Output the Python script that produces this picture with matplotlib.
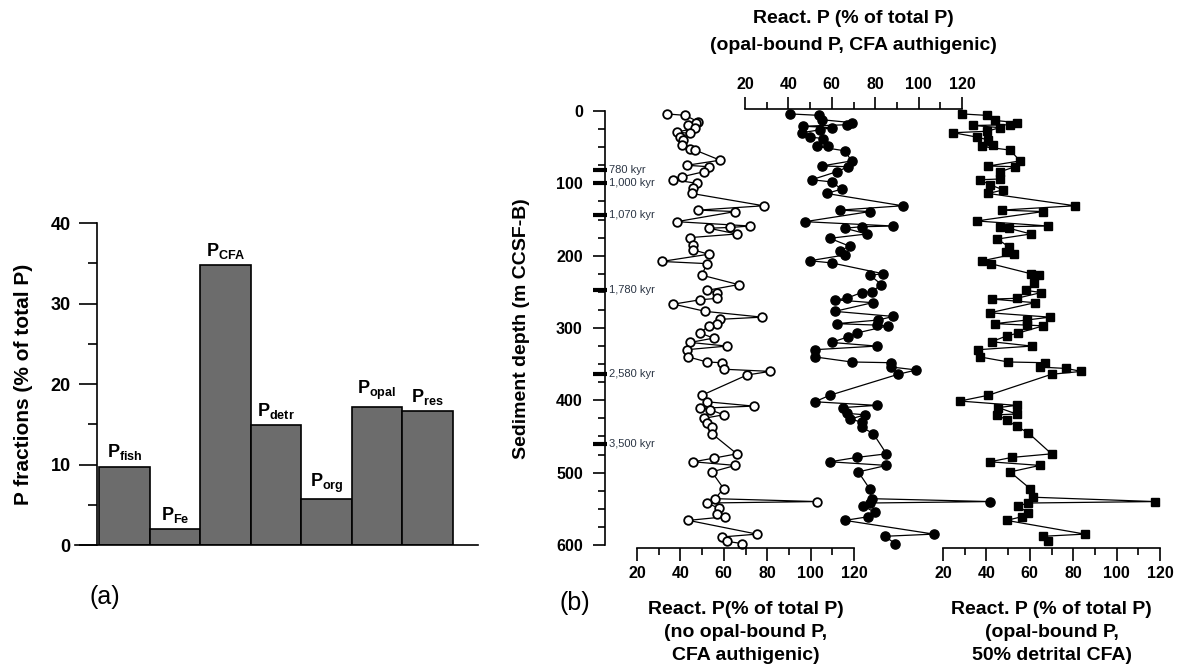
import matplotlib
matplotlib.use('Agg')
import matplotlib.pyplot as plt
from matplotlib.ticker import FixedLocator, MultipleLocator, NullLocator
from matplotlib.transforms import blended_transform_factory as blend

plt.rcParams['font.family'] = ['Liberation Sans', 'DejaVu Sans']
plt.rcParams['font.weight'] = 'bold'
plt.rcParams['mathtext.fontset'] = 'custom'
plt.rcParams['mathtext.rm'] = 'Liberation Sans:bold'
plt.rcParams['mathtext.bf'] = 'Liberation Sans:bold'
plt.rcParams['mathtext.it'] = 'Liberation Sans:bold'
plt.rcParams['mathtext.sf'] = 'Liberation Sans:bold'
plt.rcParams['axes.linewidth'] = 1.2

# ---------------- data: panel (a) ----------------
fractions = ['fish', 'Fe', 'CFA', 'detr', 'org', 'opal', 'res']
fraction_values = [9.75, 1.95, 34.8, 14.9, 5.7, 17.2, 16.6]

# ---------------- data: panel (b) ----------------
# open circles: no opal-bound P, CFA authigenic (bottom-left axis)
depth_L = [4, 6, 15, 17, 19, 24, 29, 31, 36, 40,
           47, 52, 54, 68, 75, 77, 84, 91, 95, 100,
           107, 114, 131, 137, 139, 153, 159, 161, 162, 170,
           175, 185, 192, 198, 208, 211, 227, 240, 248, 252,
           259, 261, 267, 277, 285, 288, 294, 297, 307, 314,
           320, 325, 330, 340, 347, 348, 357, 360, 365, 393,
           402, 408, 411, 413, 420, 425, 431, 437, 446, 474,
           480, 485, 490, 499, 522, 536, 540, 542, 549, 557,
           561, 566, 585, 589, 595, 598]
react_L = [33.7, 42.2, 48.3, 47.0, 43.7, 46.8, 38.3, 44.5, 39.9, 41.4,
           40.6, 44.5, 46.8, 58.3, 43.0, 53.0, 50.7, 40.6, 36.8, 47.6,
           46.0, 45.3, 78.3, 48.3, 65.3, 38.3, 72.2, 63.0, 53.0, 66.0,
           44.5, 46.0, 46.0, 53.0, 31.4, 52.2, 49.9, 66.8, 52.2, 56.8,
           56.8, 49.1, 36.8, 51.4, 77.6, 58.3, 56.8, 53.0, 49.1, 55.3,
           44.5, 61.4, 43.0, 43.7, 52.2, 59.0, 59.9, 81.4, 70.7, 49.9,
           52.2, 73.7, 49.1, 53.7, 59.9, 50.7, 52.2, 54.5, 54.5, 66.0,
           55.3, 46.0, 65.3, 54.5, 59.9, 56.0, 102.9, 52.2, 57.6, 56.8,
           60.7, 43.7, 75.3, 59.0, 61.4, 68.3]

# filled circles: opal-bound P, CFA authigenic (top axis)
depth_M = [4, 6, 12, 16, 19, 21, 23, 26, 30, 36,
           38, 48, 49, 55, 69, 76, 77, 84, 95, 98,
           108, 114, 131, 137, 139, 153, 159, 160, 162, 170,
           176, 187, 193, 199, 207, 210, 225, 227, 240, 250,
           251, 259, 261, 265, 277, 284, 289, 294, 296, 297,
           307, 312, 320, 325, 330, 340, 347, 348, 354, 358,
           364, 393, 402, 407, 410, 418, 420, 426, 430, 437,
           446, 474, 479, 485, 490, 499, 523, 536, 540, 542,
           546, 555, 561, 566, 585, 588, 598]
react_M = [40.7, 54.2, 55.3, 69.1, 66.8, 46.9, 59.9, 54.5, 46.1, 49.9,
           56.0, 58.4, 53.0, 66.0, 69.1, 55.3, 67.6, 62.2, 50.7, 59.9,
           64.5, 57.6, 92.6, 63.7, 77.6, 47.6, 88.3, 73.7, 66.0, 76.1,
           59.1, 68.3, 63.7, 66.0, 49.9, 59.9, 83.7, 77.6, 82.9, 78.3,
           73.7, 66.8, 61.4, 78.8, 61.4, 88.3, 81.4, 62.2, 80.6, 86.0,
           71.4, 67.6, 59.9, 80.6, 52.2, 52.2, 69.1, 87.5, 87.5, 99.0,
           90.6, 59.1, 52.2, 80.6, 65.3, 66.8, 75.3, 68.4, 73.7, 73.7,
           79.1, 85.2, 71.4, 59.1, 85.2, 72.2, 77.6, 78.3, 133.0, 77.6,
           74.5, 79.9, 76.8, 66.0, 107.0, 84.5, 89.1]

# filled squares: opal-bound P, 50% detrital CFA (bottom-right axis)
depth_R = [4, 6, 13, 16, 19, 20, 23, 28, 30, 36,
           40, 47, 49, 54, 69, 76, 77, 84, 94, 95,
           102, 109, 114, 131, 137, 139, 152, 159, 160, 162,
           170, 177, 188, 195, 198, 207, 211, 225, 227, 238,
           248, 251, 259, 260, 265, 279, 285, 289, 294, 296,
           297, 307, 311, 319, 325, 330, 340, 347, 348, 354,
           356, 360, 364, 393, 401, 407, 410, 419, 420, 427,
           436, 445, 474, 479, 485, 490, 499, 522, 534, 540,
           542, 546, 556, 561, 566, 585, 588, 595]
react_R = [28.6, 40.1, 43.9, 54.0, 50.9, 34.0, 46.3, 40.1, 24.8, 35.5,
           40.9, 43.2, 37.8, 50.9, 55.5, 40.9, 53.2, 46.3, 46.3, 37.0,
           41.7, 47.8, 40.9, 80.8, 47.0, 66.2, 35.5, 68.5, 46.3, 50.2,
           60.5, 45.1, 50.4, 48.9, 52.7, 38.1, 41.9, 60.5, 64.3, 62.1,
           58.2, 65.3, 53.9, 42.4, 62.4, 41.6, 69.3, 58.5, 44.0, 58.5,
           66.2, 54.7, 49.3, 42.4, 60.9, 36.3, 37.0, 50.1, 67.0, 64.7,
           76.9, 83.8, 70.0, 40.9, 27.8, 53.9, 45.5, 53.9, 44.7, 49.3,
           53.9, 59.3, 70.0, 51.6, 41.6, 64.7, 50.9, 60.1, 61.6, 117.7,
           59.3, 54.7, 59.3, 56.3, 49.3, 85.4, 66.2, 68.5]

kyr_labels = ['780 kyr', '1,000 kyr', '1,070 kyr', '1,780 kyr', '2,580 kyr', '3,500 kyr']
kyr_depths = [82, 100, 144, 247, 364, 460]

react_ticks = [20, 40, 60, 80, 100, 120]
react_minor = [30, 50, 70, 90, 110]

# ---------------- figure ----------------
W, H = 1184, 671
fig = plt.figure(figsize=(W / 100, H / 100), dpi=100)


def px_axes(x0, y0, x1, y1):
    return fig.add_axes([x0 / W, 1 - y1 / H, (x1 - x0) / W, (y1 - y0) / H])


# ---------- panel (a) ----------
ax_a = px_axes(75, 223, 478, 545)
xpos = list(range(len(fractions)))
ax_a.bar(xpos, fraction_values, width=1.0, color='#6c6c6c',
         edgecolor='black', linewidth=1.2, zorder=2)
for x, v, name in zip(xpos, fraction_values, fractions):
    ax_a.annotate(r'$\mathrm{P}_{\mathrm{%s}}$' % name, (x, v),
                  xytext=(0, 3), textcoords='offset points',
                  ha='center', va='bottom', fontsize=13)
ax_a.set_xlim(-0.98, 7.0)
ax_a.set_ylim(0, 40)
ax_a.spines['top'].set_visible(False)
ax_a.spines['right'].set_visible(False)
ax_a.spines['left'].set_position(('data', -0.54))
ax_a.xaxis.set_major_locator(NullLocator())
ax_a.yaxis.set_major_locator(MultipleLocator(10))
ax_a.yaxis.set_minor_locator(MultipleLocator(5))
ax_a.tick_params(axis='y', which='major', length=13, width=1.2, labelsize=13, pad=6)
ax_a.tick_params(axis='y', which='minor', length=6.5, width=1.2)
ax_a.set_ylabel('P fractions (% of total P)', fontsize=15, fontweight='bold')
ax_a.yaxis.set_label_coords(-0.104, 0.5)

fig.text(105 / W, 1 - 597 / H, '(a)', fontsize=18, fontweight='normal',
         ha='center', va='center')

# ---------- panel (b) ----------
box = (605, 109, 1175, 548)
scale = 2.17  # px per % unit, same on the three React. P axes
width_units = (box[2] - box[0]) / scale


def lims(px20):
    lo = 20 - (px20 - box[0]) / scale
    return lo, lo + width_units


axA = px_axes(*box)
axB = px_axes(*box)
axC = px_axes(*box)
for ax in (axB, axC):
    ax.set_facecolor('none')
for ax in (axA, axB, axC):
    ax.set_ylim(604.2, -2.8)

axA.set_xlim(*lims(637))
axB.set_xlim(*lims(745))
axC.set_xlim(*lims(943))

line_kw = dict(color='black', linewidth=0.9)
axA.plot(react_L, depth_L, marker='o', markersize=6.2, markerfacecolor='white',
         markeredgecolor='black', markeredgewidth=1.3, clip_on=False, **line_kw)
axB.plot(react_M, depth_M, marker='o', markersize=6.6, markerfacecolor='black',
         markeredgecolor='black', clip_on=False, **line_kw)
axC.plot(react_R, depth_R, marker='s', markersize=5.8, markerfacecolor='black',
         markeredgecolor='black', clip_on=False, **line_kw)

# spines
for s in ('top', 'right'):
    axA.spines[s].set_visible(False)
axA.spines['left'].set_bounds(0, 600)
axA.spines['bottom'].set_bounds(20, 120)
for s in ('bottom', 'left', 'right'):
    axB.spines[s].set_visible(False)
axB.spines['top'].set_bounds(20, 120)
for s in ('top', 'left', 'right'):
    axC.spines[s].set_visible(False)
axC.spines['bottom'].set_bounds(20, 120)

# ticks
axA.yaxis.set_major_locator(MultipleLocator(100))
axA.yaxis.set_minor_locator(MultipleLocator(25))
for ax in (axA, axB, axC):
    ax.xaxis.set_major_locator(FixedLocator(react_ticks))
    ax.xaxis.set_minor_locator(FixedLocator(react_minor))
    ax.tick_params(which='major', length=9, width=1.2, labelsize=11.5, pad=4)
    ax.tick_params(which='minor', length=5, width=1.2)
for ax in (axB, axC):
    ax.yaxis.set_major_locator(NullLocator())
    ax.yaxis.set_minor_locator(NullLocator())
axB.xaxis.tick_top()
axB.tick_params(axis='x', which='both', top=True, bottom=False, labeltop=True,
                labelbottom=False, pad=3)
axA.tick_params(axis='y', which='major', pad=7)

axA.set_ylabel('Sediment depth (m CCSF-B)', fontsize=14, fontweight='bold')
axA.yaxis.set_label_coords(-0.132, 0.5)

# axis titles
tA = blend(axA.transData, axA.transAxes)
tB = blend(axB.transData, axB.transAxes)
tC = blend(axC.transData, axC.transAxes)
ybot = (box[3] - 601) / (box[3] - box[1])
ytop = (box[3] - 10) / (box[3] - box[1])
axB.text(70, ytop, 'React. P (% of total P)\n(opal-bound P, CFA authigenic)',
         transform=tB, ha='center', va='top', fontsize=14, linespacing=1.8,
         multialignment='center')
axA.text(70, ybot, 'React. P(% of total P)\n(no opal-bound P,\nCFA authigenic)',
         transform=tA, ha='center', va='top', fontsize=14, linespacing=1.45,
         multialignment='center')
axC.text(70, ybot, 'React. P (% of total P)\n(opal-bound P,\n50% detrital CFA)',
         transform=tC, ha='center', va='top', fontsize=14, linespacing=1.45,
         multialignment='center')

# age tie points on the depth axis
tk = blend(axA.transAxes, axA.transData)
for lab, d in zip(kyr_labels, kyr_depths):
    axA.plot([-0.021, 0.004], [d, d], transform=tk, color='black', lw=3,
             solid_capstyle='butt', clip_on=False)
    axA.text(0.007, d, lab, transform=tk, fontsize=8, fontweight='normal',
             color='#2b3544', ha='left', va='center')

fig.text(575 / W, 1 - 603 / H, '(b)', fontsize=18, fontweight='normal',
         ha='center', va='center')

fig.savefig('out.png', dpi=100)
